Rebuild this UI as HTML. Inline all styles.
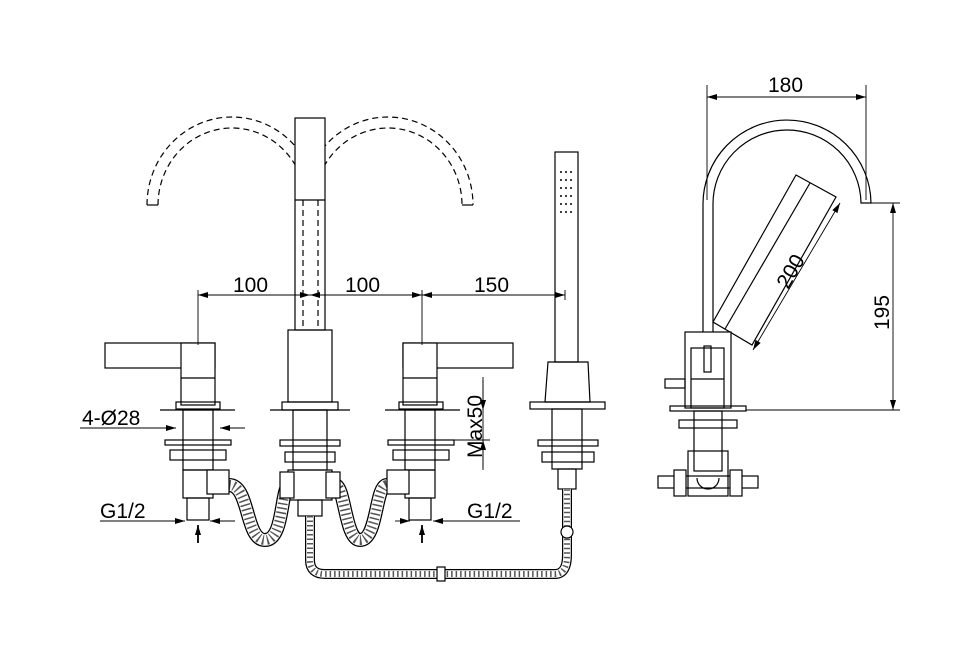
<!DOCTYPE html>
<html><head><meta charset="utf-8"><style>
html,body{margin:0;padding:0;background:#fff}
svg{display:block}
text{font-family:"Liberation Sans",sans-serif;font-size:21px;fill:#000}
</style></head><body>
<svg width="975" height="660" viewBox="0 0 975 660" xmlns="http://www.w3.org/2000/svg">
<defs>
<marker id="a" viewBox="0 0 10 6" refX="10" refY="3" markerWidth="14" markerHeight="6" markerUnits="userSpaceOnUse" orient="auto-start-reverse"><path d="M0,0L10,3L0,6z" fill="#000"/></marker>
</defs>
<g fill="none" stroke="#000" stroke-width="1.2">
<!-- dashed arcs -->
<g stroke-dasharray="6,4">
<path d="M147,205 A85,88 0 0 1 317,205"/>
<path d="M158,205 A74,77 0 0 1 306,205"/>
<path d="M303,205 A85,88 0 0 1 473,205"/>
<path d="M314,205 A74,77 0 0 1 462,205"/>
</g>
<line x1="147" y1="205" x2="158" y2="205"/>
<line x1="462" y1="205" x2="473" y2="205"/>
<!-- center spout -->
<rect x="295" y="118" width="30" height="212" fill="#fff"/>
<line x1="295" y1="200" x2="325" y2="200"/>
<line x1="303" y1="200" x2="303" y2="330" stroke-dasharray="6,4"/>
<line x1="318" y1="200" x2="318" y2="330" stroke-dasharray="6,4"/>
<rect x="288" y="330" width="44" height="72"/>
<rect x="282" y="402" width="56" height="8"/>
<line x1="270" y1="410" x2="350" y2="410"/>
<rect x="293" y="410" width="34" height="60"/>
<rect x="280" y="440" width="60" height="6"/>
<rect x="285" y="452" width="50" height="10"/>
<rect x="288" y="470" width="44" height="30"/>
<rect x="298" y="500" width="24" height="16"/>
<!-- left handle -->
<rect x="105" y="343" width="110" height="25"/>
<rect x="181" y="343" width="34" height="62" fill="#fff"/>
<line x1="181" y1="378" x2="215" y2="378"/>
<rect x="176" y="402" width="44" height="7"/>
<line x1="160" y1="410" x2="235" y2="410"/>
<rect x="183" y="410" width="30" height="60"/>
<rect x="165" y="440" width="66" height="5"/>
<rect x="170" y="450" width="56" height="10"/>
<rect x="183" y="470" width="30" height="28"/>
<rect x="187" y="498" width="22" height="22"/>
<!-- right handle -->
<rect x="403" y="343" width="110" height="25"/>
<rect x="403" y="343" width="34" height="62" fill="#fff"/>
<line x1="403" y1="378" x2="437" y2="378"/>
<rect x="399" y="402" width="44" height="7"/>
<line x1="385" y1="410" x2="460" y2="410"/>
<rect x="405" y="410" width="30" height="60"/>
<rect x="388" y="440" width="66" height="5"/>
<rect x="393" y="450" width="56" height="10"/>
<rect x="405" y="470" width="30" height="28"/>
<rect x="409" y="498" width="22" height="22"/>
<!-- shower -->
<rect x="555" y="152" width="23" height="210"/>
<g fill="#000" stroke="none">
<circle cx="561" cy="172" r="1"/><circle cx="566" cy="172" r="1"/><circle cx="571" cy="172" r="1"/>
<circle cx="561" cy="180" r="1"/><circle cx="566" cy="180" r="1"/><circle cx="571" cy="180" r="1"/>
<circle cx="561" cy="188" r="1"/><circle cx="566" cy="188" r="1"/><circle cx="571" cy="188" r="1"/>
<circle cx="561" cy="196" r="1"/><circle cx="566" cy="196" r="1"/><circle cx="571" cy="196" r="1"/>
<circle cx="561" cy="204" r="1"/><circle cx="566" cy="204" r="1"/><circle cx="571" cy="204" r="1"/>
<circle cx="561" cy="212" r="1"/><circle cx="566" cy="212" r="1"/><circle cx="571" cy="212" r="1"/>
</g>
<path d="M548,362 L588,362 L590,402 L545,402 Z"/>
<rect x="530" y="402" width="75" height="7"/>
<rect x="552" y="409" width="30" height="60"/>
<rect x="538" y="440" width="60" height="6"/>
<rect x="542" y="452" width="52" height="10"/>
<rect x="558" y="469" width="18" height="20"/>
<!-- hoses -->
<g id="hoses">
<path d="M229,485 C250,485 245,540 265,540 C285,540 280,485 290,485" stroke-width="14"/>
<path d="M335,485 C345,485 345,540 360,540 C378,540 375,485 387,485" stroke-width="14"/>
<path d="M310,516 L310,560 Q310,574 325,574 L555,574 Q567,574 567,555 L567,489" stroke-width="10"/>
</g>
<g stroke="#fff">
<path d="M229,485 C250,485 245,540 265,540 C285,540 280,485 290,485" stroke-width="11.5"/>
<path d="M335,485 C345,485 345,540 360,540 C378,540 375,485 387,485" stroke-width="11.5"/>
<path d="M310,516 L310,560 Q310,574 325,574 L555,574 Q567,574 567,555 L567,489" stroke-width="7.5"/>
</g>
<g stroke="#555" stroke-dasharray="1.5,3">
<path d="M229,485 C250,485 245,540 265,540 C285,540 280,485 290,485" stroke-width="10"/>
<path d="M335,485 C345,485 345,540 360,540 C378,540 375,485 387,485" stroke-width="10"/>
<path d="M310,516 L310,560 Q310,574 325,574 L555,574 Q567,574 567,555 L567,489" stroke-width="6"/>
</g>
<rect x="207" y="470" width="22" height="24" fill="#fff"/>
<rect x="387" y="470" width="22" height="24" fill="#fff"/>
<rect x="280" y="472" width="14" height="26" fill="#fff"/>
<rect x="326" y="472" width="14" height="26" fill="#fff"/>
<rect x="437" y="567" width="8" height="14" fill="#fff"/>
<circle cx="567" cy="532" r="6" fill="#fff"/>
<!-- dims -->
<line x1="198" y1="290" x2="198" y2="345" stroke-width="0.9"/>
<line x1="422" y1="290" x2="422" y2="345" stroke-width="0.9"/>
<line x1="565" y1="290" x2="565" y2="300" stroke-width="0.9"/>
<line x1="198" y1="295" x2="310" y2="295" stroke-width="0.9" marker-start="url(#a)" marker-end="url(#a)"/>
<line x1="310" y1="295" x2="422" y2="295" stroke-width="0.9" marker-start="url(#a)" marker-end="url(#a)"/>
<line x1="422" y1="295" x2="565" y2="295" stroke-width="0.9" marker-start="url(#a)" marker-end="url(#a)"/>
<line x1="80" y1="428" x2="176" y2="428" stroke-width="0.9" marker-end="url(#a)"/>
<line x1="245" y1="428" x2="220" y2="428" stroke-width="0.9" marker-end="url(#a)"/>
<line x1="100" y1="521" x2="185" y2="521" stroke-width="0.9" marker-end="url(#a)"/>
<line x1="235" y1="521" x2="210" y2="521" stroke-width="0.9" marker-end="url(#a)"/>
<line x1="520" y1="521" x2="433" y2="521" stroke-width="0.9" marker-end="url(#a)"/>
<line x1="395" y1="521" x2="410" y2="521" stroke-width="0.9" marker-end="url(#a)"/>
<line x1="198" y1="543" x2="198" y2="525" stroke-width="1.8" marker-end="url(#a)"/>
<line x1="422" y1="543" x2="422" y2="525" stroke-width="1.8" marker-end="url(#a)"/>
<line x1="483" y1="377" x2="483" y2="470" stroke-width="0.9"/>
<line x1="483" y1="380" x2="483" y2="410" stroke-width="0.9" marker-end="url(#a)"/>
<line x1="483" y1="468" x2="483" y2="440" stroke-width="0.9" marker-end="url(#a)"/>
<line x1="440" y1="440" x2="490" y2="440" stroke-width="0.9"/>
<!-- side view -->
<path d="M703,332 L703,205 A84,84 0 0 1 871,203 L861,203 A74,74 0 0 0 713,205 L713,332"/>
<line x1="871" y1="203" x2="900" y2="203" stroke-width="0.9"/>
<path d="M796,175 L836,197 L752,345 L713,322 Z"/>
<line x1="810" y1="183" x2="725" y2="329"/>
<line x1="840" y1="203" x2="753" y2="350" stroke-width="0.9" marker-start="url(#a)" marker-end="url(#a)"/>
<rect x="685" y="332" width="46" height="76" fill="#fff"/>
<rect x="691" y="348" width="33" height="60"/>
<rect x="704" y="346" width="7" height="26"/>
<line x1="691" y1="379" x2="724" y2="379"/>
<rect x="665" y="379" width="20" height="9"/>
<rect x="670" y="406" width="76" height="5"/>
<line x1="746" y1="410" x2="900" y2="410" stroke-width="0.9"/>
<rect x="694" y="411" width="28" height="60"/>
<rect x="679" y="420" width="58" height="8"/>
<rect x="688" y="451" width="40" height="45"/>
<rect x="658" y="476" width="100" height="12"/>
<rect x="674" y="470" width="12" height="26" fill="#fff"/>
<rect x="730" y="470" width="12" height="26" fill="#fff"/>
<path d="M697,478 A11,11 0 0 0 719,478"/>
<line x1="707" y1="85" x2="707" y2="200" stroke-width="0.9"/>
<line x1="866" y1="85" x2="866" y2="200" stroke-width="0.9"/>
<line x1="707" y1="97" x2="866" y2="97" stroke-width="0.9" marker-start="url(#a)" marker-end="url(#a)"/>
<line x1="893" y1="203" x2="893" y2="410" stroke-width="0.9" marker-start="url(#a)" marker-end="url(#a)"/>
</g>
<text x="233" y="292">100</text>
<text x="345" y="292">100</text>
<text x="474" y="292">150</text>
<text x="82" y="425">4-Ø28</text>
<text x="100" y="518">G1/2</text>
<text x="467" y="518">G1/2</text>
<text x="768" y="92">180</text>
<text transform="translate(482,458) rotate(-90)">Max50</text>
<text transform="translate(889,330) rotate(-90)">195</text>
<text transform="translate(788,290) rotate(-60)">200</text>
</svg>
</body></html>
